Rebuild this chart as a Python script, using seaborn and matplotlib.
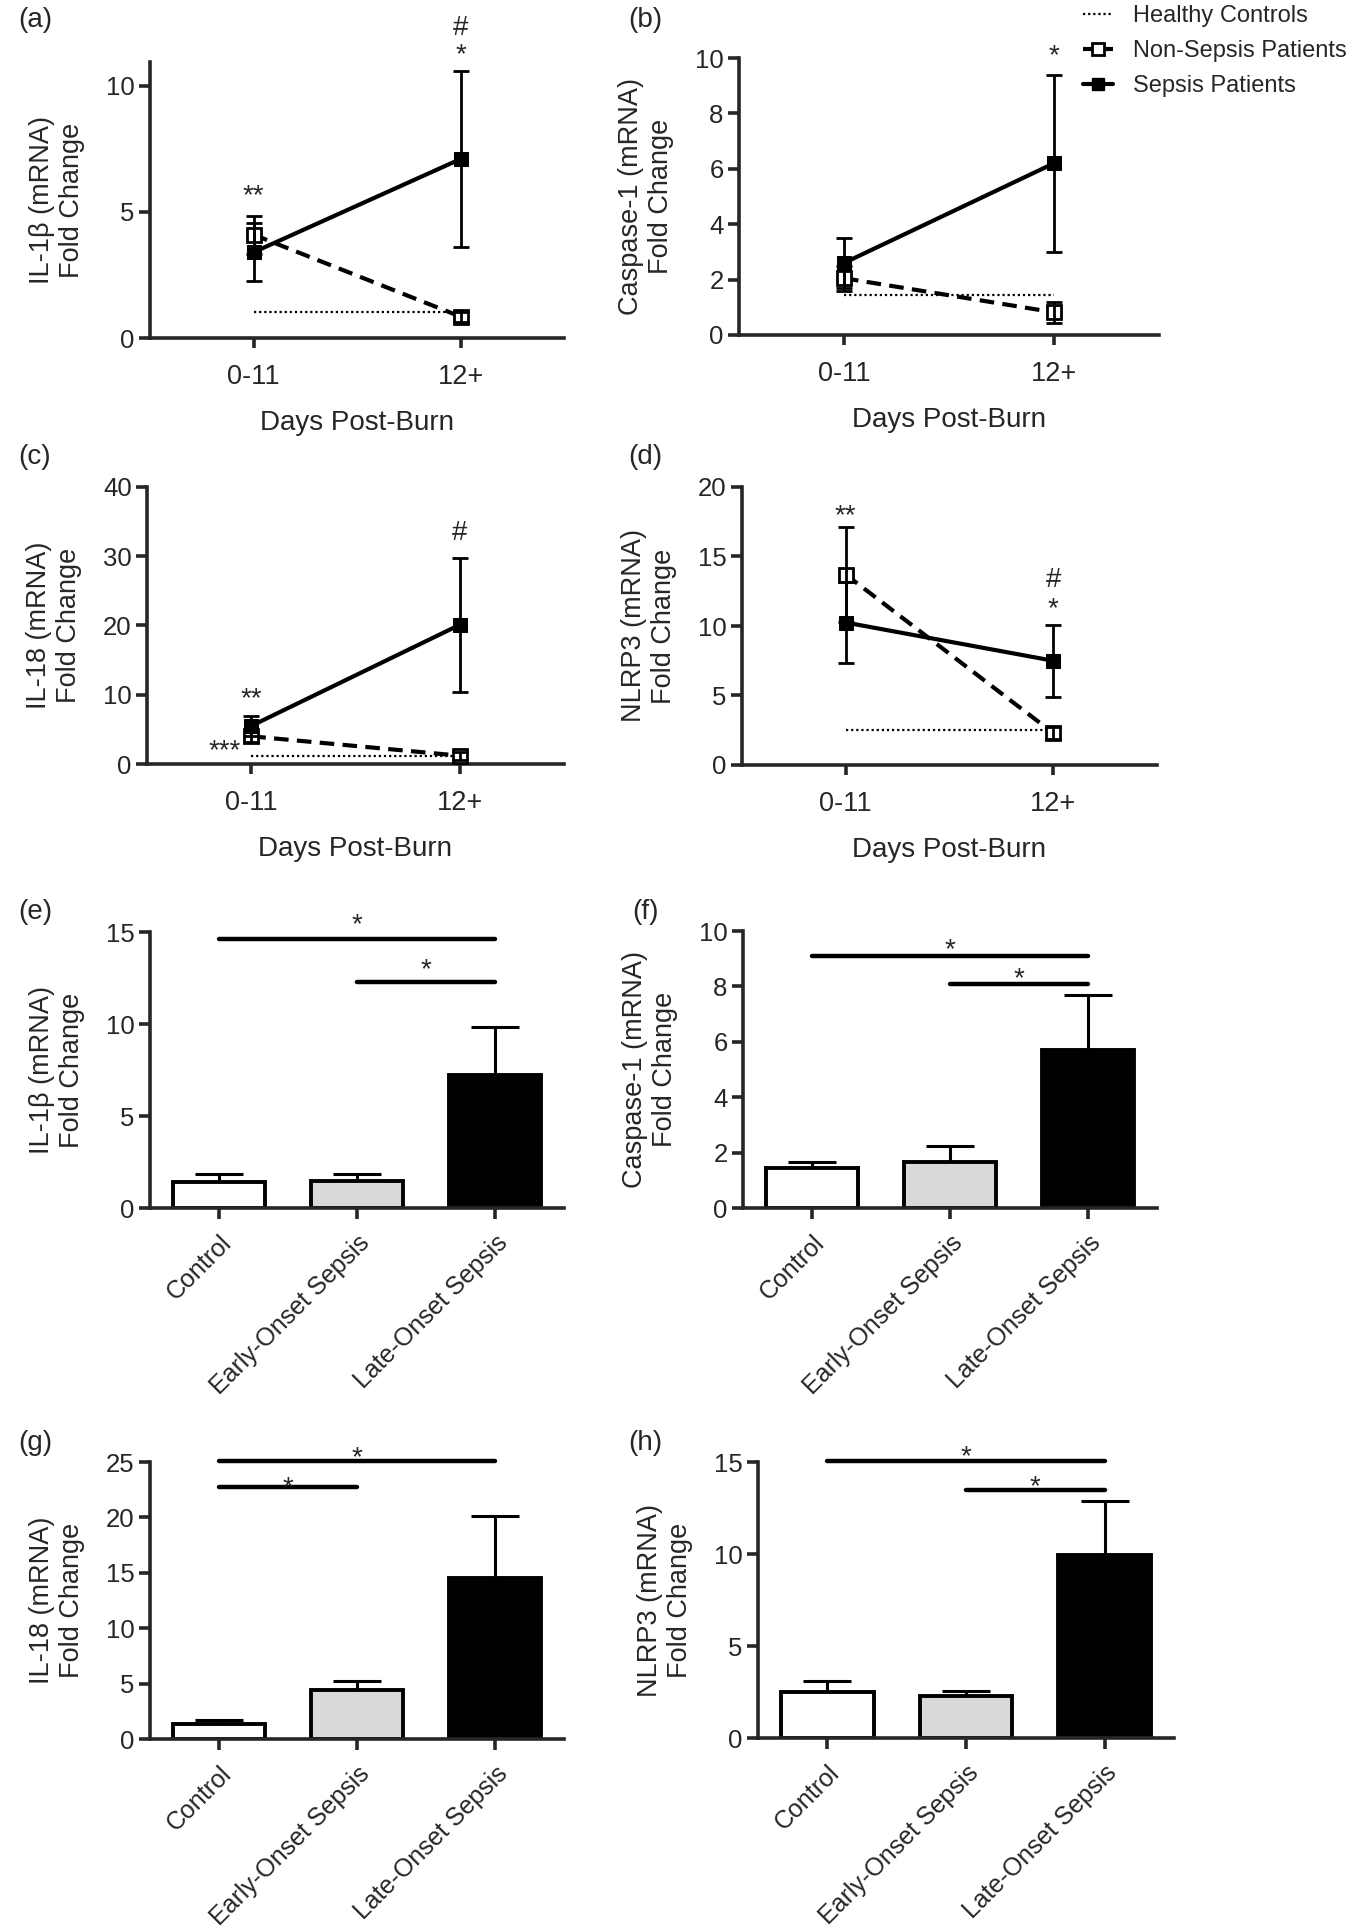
import matplotlib

matplotlib.use("Agg")
import matplotlib.pyplot as plt
from matplotlib.lines import Line2D
import numpy as np
import pandas as pd
import seaborn as sns

# ---- data -------------------------------------------------------------
DAYS = ["0-11", "12+"]
GROUPS = ["Control", "Early-Onset Sepsis", "Late-Onset Sepsis"]
BAR_COLORS = {"Control": "white", "Early-Onset Sepsis": "#d9d9d9", "Late-Onset Sepsis": "black"}

# time course (mean, SEM) for non-sepsis / sepsis patients; healthy control level
IL1B_NONSEPSIS = [4.1, 0.85]
IL1B_NONSEPSIS_SEM = [0.75, 0.2]
IL1B_SEPSIS = [3.4, 7.1]
IL1B_SEPSIS_SEM = [1.15, 3.5]
IL1B_HEALTHY = 1.05

CASP1_NONSEPSIS = [2.05, 0.82]
CASP1_NONSEPSIS_SEM = [0.45, 0.38]
CASP1_SEPSIS = [2.6, 6.2]
CASP1_SEPSIS_SEM = [0.9, 3.2]
CASP1_HEALTHY = 1.45

IL18_NONSEPSIS = [4.0, 1.2]
IL18_NONSEPSIS_SEM = [0.8, 0.6]
IL18_SEPSIS = [5.5, 20.1]
IL18_SEPSIS_SEM = [1.5, 9.7]
IL18_HEALTHY = 1.2

NLRP3_NONSEPSIS = [13.7, 2.3]
NLRP3_NONSEPSIS_SEM = [3.4, 0.4]
NLRP3_SEPSIS = [10.25, 7.5]
NLRP3_SEPSIS_SEM = [2.9, 2.6]
NLRP3_HEALTHY = 2.5

# sepsis onset (mean, SEM) for Control / Early / Late
IL1B_ONSET = [1.4, 1.45, 7.23]
IL1B_ONSET_SEM = [0.45, 0.4, 2.62]
CASP1_ONSET = [1.44, 1.66, 5.69]
CASP1_ONSET_SEM = [0.21, 0.59, 1.99]
IL18_ONSET = [1.39, 4.46, 14.55]
IL18_ONSET_SEM = [0.36, 0.74, 5.55]
NLRP3_ONSET = [2.5, 2.3, 9.93]
NLRP3_ONSET_SEM = [0.58, 0.27, 2.97]

# ---- style ------------------------------------------------------------
sns.set_style("ticks")
plt.rcParams["font.family"] = ["Liberation Sans", "DejaVu Sans"]
plt.rcParams["font.size"] = 19
plt.rcParams["axes.linewidth"] = 2.6

FIG_W, FIG_H = 1353, 1926
LW = 3.0
MS = 10.5


def px_axes(fig, left, top, right, bottom):
    return fig.add_axes([left / FIG_W, 1 - bottom / FIG_H, (right - left) / FIG_W, (bottom - top) / FIG_H])


def mark(ax, x, y, text, ha="center"):
    shift = -0.36 * 20 if text == "#" else -0.55 * 20
    ax.annotate(text, xy=(x, y), xytext=(0, shift), textcoords="offset points",
                ha=ha, va="baseline", fontsize=20, annotation_clip=False)


def style_axis(ax, ylim, yticks, ylabel):
    sns.despine(ax=ax)
    ax.set_ylim(*ylim)
    ax.set_yticks(yticks)
    ax.set_ylabel(ylabel, fontsize=19.5, labelpad=15)
    ax.tick_params(axis="y", length=8, width=2.6, pad=3, labelsize=18.5)


def time_panel(ax, nonsep, nonsep_sem, sep, sep_sem, healthy, ylim, yticks, ylabel, marks):
    x = np.arange(len(DAYS))
    sns.lineplot(x=x, y=[healthy, healthy], color="black", lw=1.6, linestyle=(0, (1, 1.3)),
                 errorbar=None, ax=ax, zorder=1)
    sns.lineplot(x=x, y=nonsep, color="black", lw=LW, linestyle=(0, (3.5, 2)), marker="s",
                 markersize=MS, markerfacecolor="white", markeredgecolor="black",
                 markeredgewidth=2, errorbar=None, ax=ax, zorder=3)
    sns.lineplot(x=x, y=sep, color="black", lw=LW, marker="s", markersize=MS,
                 markerfacecolor="black", markeredgecolor="black", errorbar=None, ax=ax, zorder=4)
    for vals, err in ((nonsep, nonsep_sem), (sep, sep_sem)):
        ax.errorbar(x, vals, yerr=err, fmt="none", ecolor="black", elinewidth=2,
                    capsize=6, capthick=2, zorder=5)
    ax.set_xlim(-0.5, 1.5)
    ax.set_xticks(x, DAYS)
    ax.tick_params(axis="x", length=7, width=2.6, pad=12, labelsize=19.5)
    ax.set_xlabel("Days Post-Burn", fontsize=20, labelpad=14)
    style_axis(ax, ylim, yticks, ylabel)
    for m in marks:
        mark(ax, *m)


def onset_panel(ax, vals, sem, ylim, yticks, ylabel, brackets):
    df = pd.DataFrame({"group": GROUPS, "value": vals})
    sns.barplot(data=df, x="group", y="value", hue="group", palette=BAR_COLORS,
                width=0.67, edgecolor="black", linewidth=2.8, errorbar=None,
                legend=False, ax=ax, zorder=2)
    ax.errorbar(GROUPS, vals, yerr=[np.zeros(len(vals)), sem], fmt="none", ecolor="black",
                elinewidth=2.2, capsize=17, capthick=2.2, zorder=1)
    ax.set_xlim(-0.5, 2.5)
    ax.set_xlabel("")
    ax.tick_params(axis="x", length=8, width=2.6, pad=8, labelsize=18, labelrotation=45)
    plt.setp(ax.get_xticklabels(), ha="right", rotation_mode="anchor")
    style_axis(ax, ylim, yticks, ylabel)
    for i, j, yline, ystar in brackets:
        ax.plot([GROUPS[i], GROUPS[j]], [yline, yline], color="black", lw=3.2,
                solid_capstyle="round", clip_on=False, zorder=3)
        mark(ax, (i + j) / 2, ystar, "*")


fig = plt.figure(figsize=(FIG_W / 100, FIG_H / 100), dpi=100)

ax_a = px_axes(fig, 150, 62, 564, 338)
time_panel(ax_a, IL1B_NONSEPSIS, IL1B_NONSEPSIS_SEM, IL1B_SEPSIS, IL1B_SEPSIS_SEM, IL1B_HEALTHY,
           (0, 10.95), [0, 5, 10], "IL-1β (mRNA)\nFold Change",
           [(0, 5.94, "**"), (1, 12.4, "#"), (1, 11.56, "*")])

ax_b = px_axes(fig, 739, 58, 1159, 335)
time_panel(ax_b, CASP1_NONSEPSIS, CASP1_NONSEPSIS_SEM, CASP1_SEPSIS, CASP1_SEPSIS_SEM, CASP1_HEALTHY,
           (0, 10), [0, 2, 4, 6, 8, 10], "Caspase-1 (mRNA)\nFold Change",
           [(1, 10.35, "*")])

ax_c = px_axes(fig, 147, 487, 564, 764)
time_panel(ax_c, IL18_NONSEPSIS, IL18_NONSEPSIS_SEM, IL18_SEPSIS, IL18_SEPSIS_SEM, IL18_HEALTHY,
           (0, 40), [0, 10, 20, 30, 40], "IL-18 (mRNA)\nFold Change",
           [(0, 10.5, "**"), (1, 33.8, "#"), (-0.05, 3.0, "***", "right")])

ax_d = px_axes(fig, 742, 487, 1157, 765)
time_panel(ax_d, NLRP3_NONSEPSIS, NLRP3_NONSEPSIS_SEM, NLRP3_SEPSIS, NLRP3_SEPSIS_SEM, NLRP3_HEALTHY,
           (0, 20), [0, 5, 10, 15, 20], "NLRP3 (mRNA)\nFold Change",
           [(0, 18.5, "**"), (1, 13.5, "#"), (1, 11.8, "*")])

ax_e = px_axes(fig, 150, 932, 564, 1208)
onset_panel(ax_e, IL1B_ONSET, IL1B_ONSET_SEM, (0, 15), [0, 5, 10, 15], "IL-1β (mRNA)\nFold Change",
            [(0, 2, 14.6, 15.8), (1, 2, 12.3, 13.4)])

ax_f = px_axes(fig, 743, 931, 1157, 1208)
onset_panel(ax_f, CASP1_ONSET, CASP1_ONSET_SEM, (0, 10), [0, 2, 4, 6, 8, 10],
            "Caspase-1 (mRNA)\nFold Change", [(0, 2, 9.1, 9.6), (1, 2, 8.07, 8.55)])

ax_g = px_axes(fig, 150, 1462, 564, 1739)
onset_panel(ax_g, IL18_ONSET, IL18_ONSET_SEM, (0, 25), [0, 5, 10, 15, 20, 25],
            "IL-18 (mRNA)\nFold Change", [(0, 2, 25.1, 26.1), (0, 1, 22.7, 23.4)])

ax_h = px_axes(fig, 758, 1462, 1174, 1738)
onset_panel(ax_h, NLRP3_ONSET, NLRP3_ONSET_SEM, (0, 15), [0, 5, 10, 15],
            "NLRP3 (mRNA)\nFold Change", [(0, 2, 15.04, 15.7), (1, 2, 13.5, 14.1)])

# panel letters
for letter, (px, py) in zip("abcdefgh", [(35, 20), (645, 20), (35, 457), (645, 457),
                                          (35, 912), (645, 912), (35, 1443), (645, 1443)]):
    fig.text(px / FIG_W, 1 - py / FIG_H, f"({letter})", ha="center", va="center", fontsize=20)

handles = [
    Line2D([], [], color="black", lw=1.6, linestyle=(0, (1, 1.3))),
    Line2D([], [], color="black", lw=LW, linestyle=(0, (3.5, 2)), marker="s", markersize=8.5,
           markerfacecolor="white", markeredgecolor="black", markeredgewidth=2),
    Line2D([], [], color="black", lw=LW, marker="s", markersize=8.5, markerfacecolor="black"),
]
fig.legend(handles, ["Healthy Controls", "Non-Sepsis Patients", "Sepsis Patients"],
           loc="upper left", bbox_to_anchor=(1083 / FIG_W, 1 - 5 / FIG_H), frameon=False,
           fontsize=17, handlelength=1.25, handletextpad=0.85, labelspacing=0.55,
           borderpad=0, borderaxespad=0)

fig.savefig("out.png", dpi=100)
plt.close(fig)
